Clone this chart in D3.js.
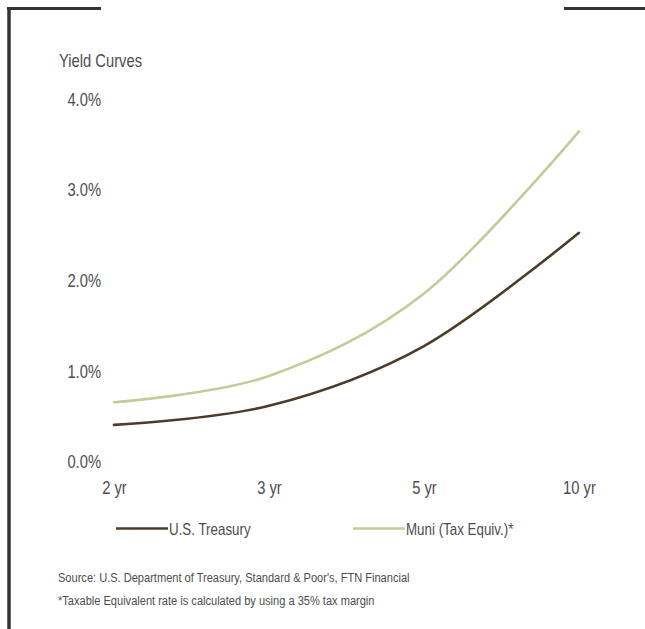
<!DOCTYPE html>
<html>
<head>
<meta charset="utf-8">
<script src="https://cdn.jsdelivr.net/npm/d3@7"></script>
<style>
  html, body { margin: 0; padding: 0; background: #fff; }
  svg { display: block; }
  text { font-family: "Liberation Sans", Arial, sans-serif; fill: #4d4d4d; }
</style>
</head>
<body>
<svg id="chart" width="645" height="629"></svg>
<script>
// Maturities and yields (percent)
const maturities = ["2 yr", "3 yr", "5 yr", "10 yr"];
const treasury = [0.41, 0.62, 1.28, 2.53];
const muniTaxEquiv = [0.66, 0.95, 1.86, 3.65];
const yTicks = [0, 1, 2, 3, 4];
const seriesNames = ["U.S. Treasury", "Muni (Tax Equiv.)*"];
const seriesColors = ["#4b3c29", "#c3cb98"];
const notes = [
  "Source: U.S. Department of Treasury, Standard & Poor's, FTN Financial",
  "*Taxable Equivalent rate is calculated by using a 35% tax margin"
];

// Narrow type: Arial-metric glyphs compressed horizontally
const NARROW = 0.82;

const svg = d3.select("#chart");

function narrowText(parent, x, y, size, str) {
  return parent.append("text")
    .attr("transform", `translate(${x},${y}) scale(${NARROW},1)`)
    .attr("font-size", size)
    .text(str);
}

// Frame accents
svg.append("line").attr("x1", 9).attr("x2", 9).attr("y1", 7).attr("y2", 629)
  .attr("stroke", "#333").attr("stroke-width", 3.5);
svg.append("line").attr("x1", 7).attr("x2", 101).attr("y1", 8.5).attr("y2", 8.5)
  .attr("stroke", "#333").attr("stroke-width", 3);
svg.append("line").attr("x1", 564).attr("x2", 645).attr("y1", 8.5).attr("y2", 8.5)
  .attr("stroke", "#333").attr("stroke-width", 3);

// Title
narrowText(svg, 59, 67, 18, "Yield Curves");

// Scales
const x = d3.scalePoint().domain(maturities).range([114, 579]);
const y = d3.scaleLinear().domain([0, 4]).range([462, 99.6]);

// Y axis (labels only)
const yAxis = d3.axisLeft(y).tickValues(yTicks).tickSize(0).tickPadding(0)
  .tickFormat(d => d3.format(".1f")(d) + "%");
const gy = svg.append("g").attr("transform", "translate(101,0)").call(yAxis);
gy.select(".domain").remove();
gy.selectAll("text")
  .attr("font-size", 18).attr("font-family", null).attr("fill", "#4d4d4d")
  .attr("transform", `scale(${NARROW},1)`);

// X axis (labels only)
const xAxis = d3.axisBottom(x).tickSize(0).tickPadding(0);
const gx = svg.append("g").attr("transform", "translate(0,481)").call(xAxis);
gx.select(".domain").remove();
gx.selectAll("text")
  .attr("font-size", 18).attr("font-family", null).attr("fill", "#4d4d4d")
  .attr("transform", `scale(${NARROW},1)`);

// Curves
const line = d3.line()
  .x((d, i) => x(maturities[i]))
  .y(d => y(d))
  .curve(d3.curveCardinal.tension(0));

[treasury, muniTaxEquiv].forEach((vals, k) => {
  svg.append("path").datum(vals)
    .attr("d", line)
    .attr("fill", "none")
    .attr("stroke", seriesColors[k])
    .attr("stroke-width", 2.6)
    .attr("stroke-linecap", "round");
});

// Legend
const legendX = [116, 353];
seriesNames.forEach((name, k) => {
  const g = svg.append("g").attr("transform", `translate(${legendX[k]},528.5)`);
  g.append("line").attr("x1", 0).attr("x2", 52).attr("y1", 0).attr("y2", 0)
    .attr("stroke", seriesColors[k]).attr("stroke-width", 2.6);
  narrowText(g, 53, 6, 16.3, name);
});

// Notes
notes.forEach((t, i) => {
  narrowText(svg, 58, 582 + i * 23, 13.5, t);
});
</script>
</body>
</html>
